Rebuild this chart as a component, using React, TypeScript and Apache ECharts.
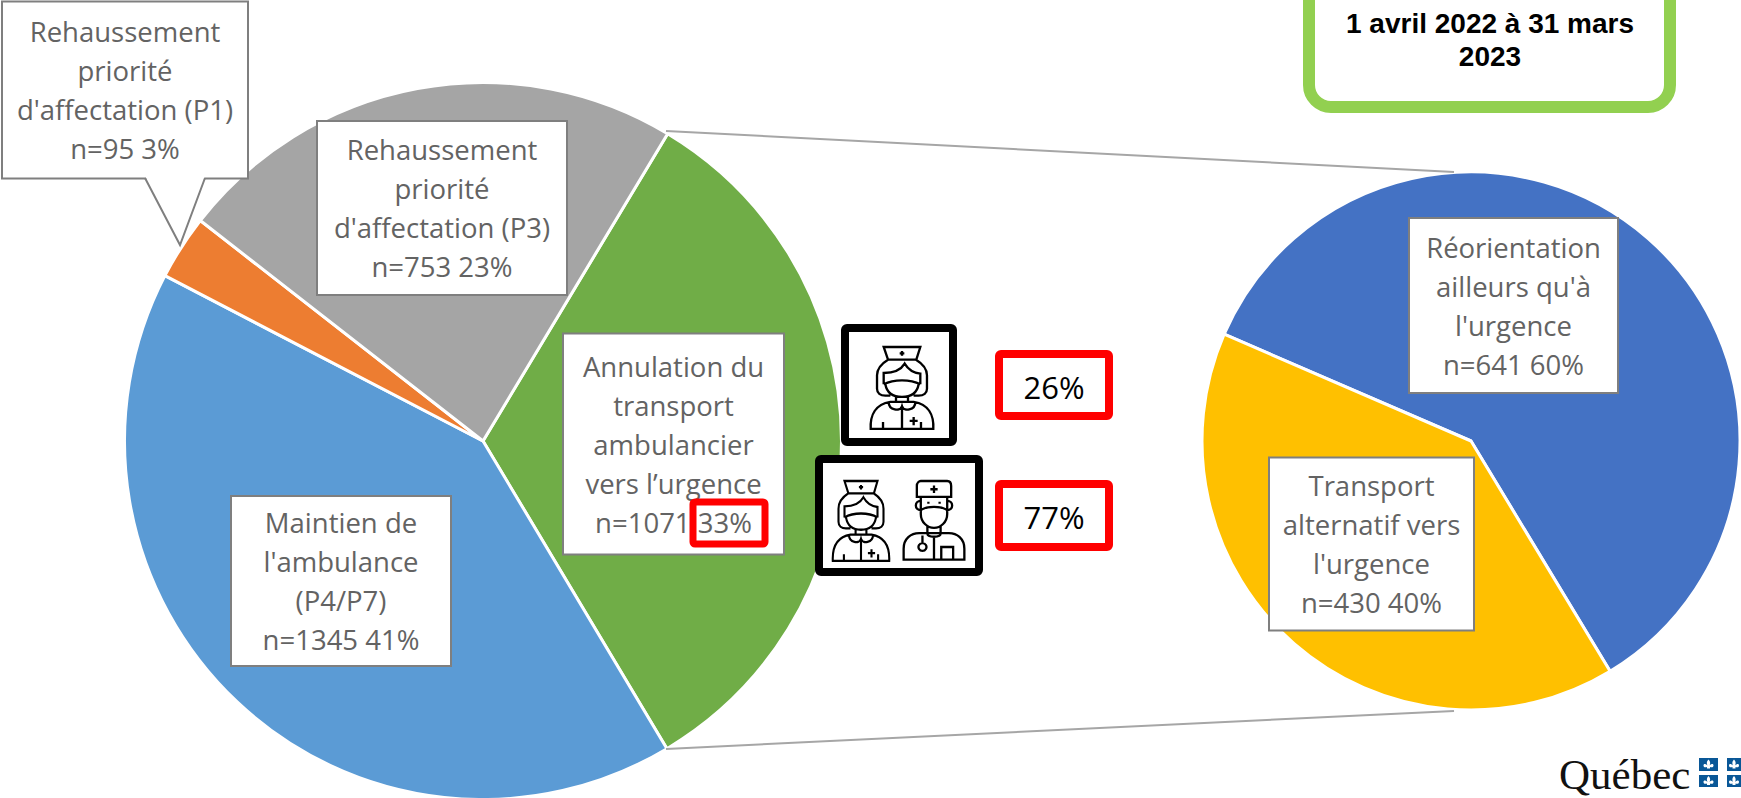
import React, { useEffect, useRef } from "react";
import * as echarts from "echarts";

const mainNames = [
  "Annulation du\ntransport\nambulancier\nvers l’urgence",
  "Maintien de\nl'ambulance\n(P4/P7)",
  "Rehaussement\npriorité\nd'affectation (P1)",
  "Rehaussement\npriorité\nd'affectation (P3)",
];
const mainValues = [1071, 1345, 95, 753];
const mainColors = ["#70AD47", "#5B9BD5", "#ED7D31", "#A5A5A5"];
const subNames = ["Réorientation\nailleurs qu'à\nl'urgence", "Transport\nalternatif vers\nl'urgence"];
const subValues = [641, 430];
const subColors = ["#4472C4", "#FFC000"];
const shares = ["26%", "77%"];
const periodText = "1 avril 2022 à 31 mars\n2023";

const mainBoxes = [
  { x: 673.5, y: 444, w: 219, h: 219 },
  { x: 341, y: 581, w: 218, h: 168 },
  { x: 125, y: 90, w: 244, h: 175 },
  { x: 442, y: 208, w: 248, h: 172 },
];
const subBoxes = [
  { x: 1513.5, y: 305.5, w: 207, h: 173 },
  { x: 1371.5, y: 544, w: 203, h: 171 },
];

const NURSE =
  "M-55 0H55L43 38H-42Z M0 12V26 M-7 19H7 " +
  "M-42 38C-62 50 -75 65 -75 85V125C-75 138 -65 146 -50 146H-35 " +
  "M42 38C62 50 75 65 75 85V125C75 138 65 146 50 146H35 " +
  "M-55 112V78C-30 78 -5 72 8 50C20 70 35 78 55 80V112 " +
  "M-55 112C-25 96 25 96 55 112 " +
  "M-50 112C-45 140 -25 150 0 150C25 150 45 140 50 112 " +
  "M-18 148V168 M18 148V168 " +
  "M-94 246C-96 205 -80 172 -35 165H35C80 172 96 205 94 246Z " +
  "M-40 166C-40 190 -5 195 0 178C5 195 40 190 40 166 " +
  "M0 180V246 M-57 225V246 M57 225V246 M35 210V235 M23 222H47";
const DOCTOR =
  "M-52 48V15C-52 5 -45 0 -40 0H40C48 0 52 6 52 15V48Z M0 14V36 M-11 25H11 " +
  "M-40 48V100C-40 125 -20 142 0 142C20 142 40 125 40 100V48 " +
  "M-40 60C-60 60 -60 88 -40 88 M40 60C60 60 60 88 40 88 " +
  "M-40 88C-20 75 20 75 40 88 M-17 63V69 M17 63V69 " +
  "M-20 135V158 M20 135V158 M-20 160C-20 172 20 172 20 160 " +
  "M-92 238V205C-92 175 -70 158 -45 158H45C70 158 92 175 92 205V238Z " +
  "M0 168V238 M-35 188A12 12 0 1 0 -34.9 188 M-35 188V165 M22 238V200H58V238";
const FLEUR = "M0 -5C2 -3 2 -1 1 1C3 -1 5 -1 5 1C5 3 3 3 1.5 2.5L1.5 4H-1.5L-1.5 2.5C-3 3 -5 3 -5 1C-5 -1 -3 -1 -1 1C-2 -1 -2 -3 0 -5Z";

echarts.graphic.registerShape("nurse", echarts.graphic.extendPath(NURSE, {}));
echarts.graphic.registerShape("doctor", echarts.graphic.extendPath(DOCTOR, {}));
echarts.graphic.registerShape("fleur", echarts.graphic.extendPath(FLEUR, {}));

const FONT = "'Open Sans'";
const LINE = 39;
const OVER = 50;

const pct = (v: number, all: number[]) => Math.round((v / all.reduce((a, b) => a + b, 0)) * 100);

function makeData(names: string[], values: number[], colors: string[], boxes: any[]) {
  return names.map((name, i) => {
    const lines = name.split("\n").length + 1;
    return {
      name,
      value: values[i],
      itemStyle: { color: colors[i] },
      label: {
        width: boxes[i].w,
        padding: [Math.max(0, (boxes[i].h - lines * LINE) / 2), 0],
      },
    };
  });
}

function pieSeries(center: number[], radius: number, startAngle: number, names: string[], values: number[], colors: string[], boxes: any[]) {
  return {
    type: "pie",
    center,
    radius,
    startAngle,
    clockwise: true,
    avoidLabelOverlap: false,
    silent: true,
    itemStyle: { borderColor: "#fff", borderWidth: 3 },
    labelLine: { show: false },
    label: {
      show: true,
      position: "inside",
      color: "#636363",
      fontFamily: FONT,
      fontSize: 27.5,
      lineHeight: LINE,
      align: "center",
      backgroundColor: "#fff",
      borderColor: "#7F7F7F",
      borderWidth: 2,
      formatter: (p: any) => `${p.name}\nn=${p.value} ${pct(p.value, values)}%`,
    },
    labelLayout: (p: any) => ({
      x: boxes[p.dataIndex].x,
      y: boxes[p.dataIndex].y,
      align: "center",
      verticalAlign: "middle",
    }),
    data: makeData(names, values, colors, boxes),
  };
}

const redBox = (x: number, y: number, w: number, h: number, lw = 8) => ({
  type: "rect",
  z: OVER,
  shape: { x, y, width: w, height: h, r: 2 },
  style: { fill: "none", stroke: "#FF0000", lineWidth: lw },
});
const blackBox = (x: number, y: number, w: number, h: number) => ({
  type: "rect",
  z: OVER,
  shape: { x, y, width: w, height: h, r: 2 },
  style: { fill: "#fff", stroke: "#000", lineWidth: 8 },
});
const icon = (type: string, x: number, y: number, sx: number, sy: number) => ({
  type,
  z: OVER + 1,
  x,
  y,
  scaleX: sx,
  scaleY: sy,
  style: { fill: "none", stroke: "#000", lineWidth: 7 },
});
const flag = (x: number, y: number, w: number, h: number) => [
  { type: "rect", z: OVER, shape: { x, y, width: w, height: h }, style: { fill: "#095797" } },
  { type: "fleur", z: OVER + 1, x: x + w / 2, y: y + h / 2, scaleX: 1, scaleY: 1, style: { fill: "#fff" } },
];
const pctText = (text: string, x: number, y: number) => ({
  type: "text",
  z: OVER,
  x,
  y,
  style: { text, fontFamily: FONT, fontSize: 31, fill: "#000", align: "center", verticalAlign: "middle" },
});

export default function App() {
  const ref = useRef<HTMLDivElement>(null);
  useEffect(() => {
    const chart = echarts.init(ref.current!, undefined, { renderer: "svg" });
    chart.setOption({
      animation: false,
      backgroundColor: "#fff",
      series: [
        pieSeries([483, 441], 358.5, 59, mainNames, mainValues, mainColors, mainBoxes),
        pieSeries([1471, 441], 269, 156.6, subNames, subValues, subColors, subBoxes),
      ],
      graphic: {
        elements: [
          { type: "line", z: OVER, shape: { x1: 666, y1: 131, x2: 1454, y2: 172 }, style: { stroke: "#A6A6A6", lineWidth: 2 } },
          { type: "line", z: OVER, shape: { x1: 666, y1: 749, x2: 1454, y2: 711 }, style: { stroke: "#A6A6A6", lineWidth: 2 } },
          { type: "polygon", z: OVER, shape: { points: [[145, 176], [180, 245], [205, 176]] }, style: { fill: "#fff" } },
          { type: "polyline", z: OVER, shape: { points: [[145, 178], [180, 245], [205, 178]] }, style: { fill: "none", stroke: "#7F7F7F", lineWidth: 2 } },
          redBox(693, 502, 72, 42, 7),
          blackBox(845, 328, 108, 114),
          blackBox(819, 459, 160, 113),
          icon("nurse", 902, 347, 1 / 3, 1 / 3),
          icon("nurse", 861, 481, 0.3, 0.325),
          icon("doctor", 934, 481, 0.33, 0.33),
          redBox(999, 354, 110, 62),
          redBox(999, 484, 110, 63),
          pctText(shares[0], 1054, 387),
          pctText(shares[1], 1054, 517),
          {
            type: "rect",
            z: OVER,
            shape: { x: 1309, y: -30, width: 361, height: 137, r: 22 },
            style: { fill: "#fff", stroke: "#92D050", lineWidth: 12 },
          },
          {
            type: "text",
            z: OVER,
            x: 1490,
            y: 40,
            style: {
              text: periodText,
              fontFamily: "'Liberation Sans'",
              fontWeight: "bold",
              fontSize: 28,
              lineHeight: 33,
              fill: "#000",
              align: "center",
              verticalAlign: "middle",
            },
          },
          {
            type: "text",
            z: OVER,
            x: 1559,
            y: 774,
            style: { text: "Québec", fontFamily: "'Liberation Serif'", fontSize: 43, fill: "#111", align: "left", verticalAlign: "middle" },
          },
          ...flag(1699, 758, 19, 13),
          ...flag(1727, 758, 14, 13),
          ...flag(1699, 775, 19, 12),
          ...flag(1727, 775, 14, 12),
        ],
      },
    });
    return () => chart.dispose();
  }, []);
  return (
    <div
      ref={ref}
      style={{ position: "absolute", left: 0, top: 0, width: 1741, height: 798, overflow: "hidden" }}
    />
  );
}
